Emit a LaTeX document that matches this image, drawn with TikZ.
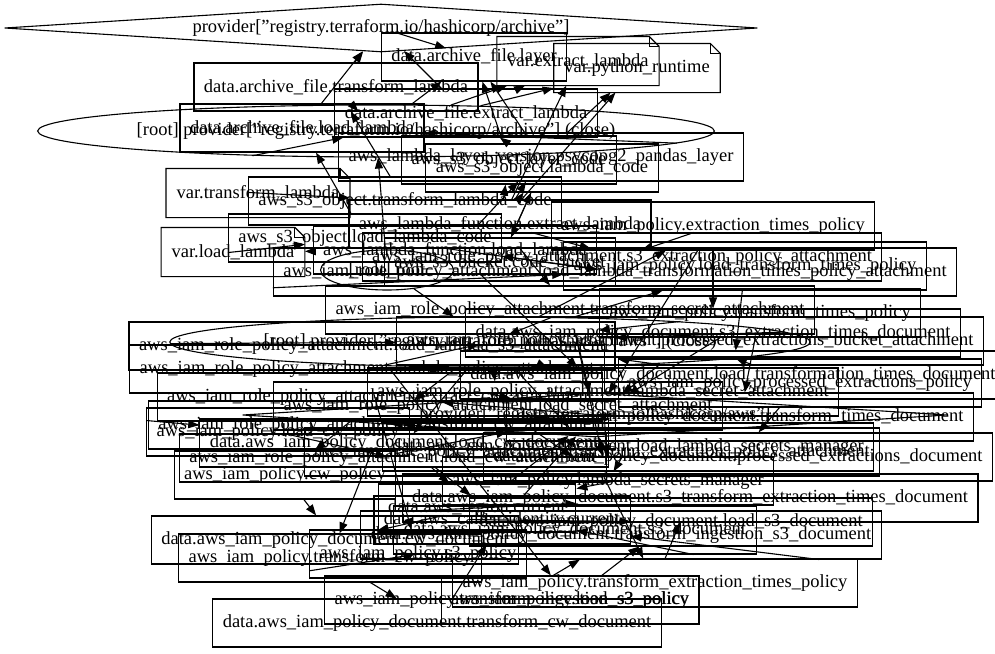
\documentclass[tikz,border=0pt]{standalone}
\usepackage{fontspec}
\setmainfont{Liberation Serif}
\usetikzlibrary{shapes.geometric,arrows.meta,calc}
\newcommand\dq{\char34\relax}
\tikzset{
  base/.style={font=\fontsize{18.5pt}{20pt}\selectfont, line width=1.1pt, inner ysep=0pt, inner xsep=10pt, minimum height=48pt},
  box/.style={base, draw, rectangle},
  notebox/.style={base, rectangle},
  oval/.style={base, draw, ellipse, inner sep=0pt},
  dia/.style={base, draw, diamond, inner sep=0pt, aspect=15},
  outline/.style={line width=1.1pt},
  edge/.style={line width=1.1pt, -{Triangle[length=11pt,width=8pt]}}
}
\begin{document}
\begin{tikzpicture}[x=1pt,y=-1pt]
\useasboundingbox (0,0) rectangle (995,653);
% ---------- top part ----------
\node[dia, minimum width=753pt, minimum height=48pt] (parch) at (381,28) {provider[\dq registry.terraform.io/hashicorp/archive\dq]};
\node[box] (dl) at (474,57) {data.archive\_file.layer};
\node[notebox] (vex) at (578,61) {var.extract\_lambda};
\node[notebox] (vpy) at (637,68) {var.python\_runtime};
\node[box] (dtr) at (336,87) {data.archive\_file.transform\_lambda};
\node[box] (dex) at (466,113) {data.archive\_file.extract\_lambda};
\node[oval, minimum width=672pt, minimum height=52pt] (closeA) at (376,131) {[root] provider[\dq registry.terraform.io/hashicorp/archive\dq] (close)};
\node[box] (dlo) at (302,128) {data.archive\_file.load\_lambda};
\node[box] (layer) at (541,157) {aws\_lambda\_layer\_version.psycopg2\_pandas\_layer};
\node[box] (s3lay) at (509,160) {aws\_s3\_object.layer\_code};
\node[box] (s3code) at (542,168) {aws\_s3\_object.lambda\_code};
\node[notebox] (vtr) at (258,193) {var.transform\_lambda};
\node[box] (s3tr) at (405,201) {aws\_s3\_object.transform\_lambda\_code};
\node[notebox] (vlo) at (233,252) {var.load\_lambda};
\node[box] (s3lo) at (365,238) {aws\_s3\_object.load\_lambda\_code};
\node[box] (lfex) at (500,224) {aws\_lambda\_function.extract\_lambda};
\node[box] (pext) at (713,226) {aws\_iam\_policy.extraction\_times\_policy};
\node[box] (lflo) at (455,250) {aws\_lambda\_function.load\_lambda};
\node[box] (bucket) at (500,262) {aws\_s3\_bucket.code\_bucket};
\node[oval, minimum width=133pt, minimum height=40pt] (root) at (387,270) {[root] root};
\node[box] (rpas3ext) at (622,257) {aws\_iam\_role\_policy\_attachment.s3\_extraction\_policy\_attachment};
\node[box] (pltt) at (745,266) {aws\_iam\_policy.load\_transform\_times\_policy};
\node[box] (rpalltt) at (615,272) {aws\_iam\_role\_policy\_attachment.load\_lambda\_transformation\_times\_policy\_attachment};
% ---------- middle part ----------
\node[box] (rpatsec) at (570,310) {aws\_iam\_role\_policy\_attachment.transform\_secret\_attachment};
\node[box] (ptt) at (760,313) {aws\_iam\_policy.transform\_times\_policy};
\node[box] (ds3ext) at (713,333) {data.aws\_iam\_policy\_document.s3\_extraction\_times\_document};
\node[box] (rpaproc) at (690,341) {aws\_iam\_role\_policy\_attachment.processed\_extractions\_bucket\_attachment};
\node[oval, minimum width=636pt, minimum height=50pt] (closeB) at (490,342) {[root] provider[\dq registry.terraform.io/hashicorp/aws\dq] (close)};
\node[box] (rpals3) at (372,346) {aws\_iam\_role\_policy\_attachment.load\_lambda\_s3\_attachment};
\node[box] (rpalp) at (367,369) {aws\_iam\_role\_policy\_attachment.lambda\_policy\_attachment};
\node[box] (dltt) at (733,375) {data.aws\_iam\_policy\_document.load\_transformation\_times\_document};
\node[box] (pproc) at (800,383) {aws\_iam\_policy.processed\_extractions\_policy};
\node[box] (rpalsec) at (603,392) {aws\_iam\_role\_policy\_attachment.lambda\_secret\_attachment};
\node[box] (rpaext) at (380,397) {aws\_iam\_role\_policy\_attachment.extract\_cw\_attachment};
\node[box] (rpalsecb) at (498,406) {aws\_iam\_role\_policy\_attachment.load\_secret\_attachment};
\node[dia, minimum width=705pt, minimum height=44pt] (paws) at (595,415) {provider[\dq registry.terraform.io/hashicorp/aws\dq]};
\node[box] (dtt) at (740,417) {data.aws\_iam\_policy\_document.transform\_times\_document};
\node[box] (rpatcw) at (382,425) {aws\_iam\_role\_policy\_attachment.transform\_cw\_attachment};
\node[box] (plcw) at (278,432) {aws\_iam\_policy.load\_cw\_policy};
\node[box] (dlcw) at (404,443) {data.aws\_iam\_policy\_document.load\_cw\_document};
\node[box] (dlsm) at (628,447) {data.aws\_iam\_policy\_document.load\_lambda\_secrets\_manager};
\node[box] (rpatex) at (592,452) {aws\_iam\_role\_policy\_attachment.transform\_extraction\_policy\_attachment};
\node[box] (dproc) at (738,457) {data.aws\_iam\_policy\_document.processed\_extractions\_document};
\node[box] (rpalcw) at (393,458) {aws\_iam\_role\_policy\_attachment.load\_cw\_attachment};
\node[box] (pcw) at (285,475) {aws\_iam\_policy.cw\_policy};
\node[box] (psm) at (608,481) {aws\_iam\_policy.lambda\_secrets\_manager};
% ---------- bottom part ----------
\node[box] (ds3tet) at (690,498) {data.aws\_iam\_policy\_document.s3\_transform\_extraction\_times\_document};
\node[box] (region) at (477,508) {data.aws\_region.current};
\node[box] (caller) at (502,520) {data.aws\_caller\_identity.current};
\node[box] (dls3) at (671,522) {data.aws\_iam\_policy\_document.load\_s3\_document};
\node[box] (ds3) at (575,530) {data.aws\_iam\_policy\_document.s3\_document};
\node[box] (dtis3) at (621,535) {data.aws\_iam\_policy\_document.transform\_ingestion\_s3\_document};
\node[box] (dcw) at (335,540) {data.aws\_iam\_policy\_document.cw\_document};
\node[box] (ps3) at (418,554) {aws\_iam\_policy.s3\_policy};
\node[box] (ptcw) at (330,558) {aws\_iam\_policy.transform\_cw\_policy};
\node[box] (ptet) at (655,583) {aws\_iam\_policy.transform\_extraction\_times\_policy};
\node[box] (ptis3) at (512,600) {aws\_iam\_policy.transform\_ingestion\_s3\_policy};
\node[box] (pls3) at (570,600) {aws\_iam\_policy.load\_s3\_policy};
\node[box] (dtcw) at (437,623) {data.aws\_iam\_policy\_document.transform\_cw\_document};
% note outlines with folded corner
\foreach \n in {vex,vpy,vtr,vlo}{
  \draw[outline] (\n.north west) -- ($(\n.north east)+(-10,0)$) -- ($(\n.north east)+(0,10)$) -- (\n.south east) -- (\n.south west) -- cycle;
  \draw[outline] ($(\n.north east)+(-10,0)$) -- ($(\n.north east)+(-10,10)$) -- ($(\n.north east)+(0,10)$);
}
% ---------- edges ----------
\foreach \a/\b in {dlo/parch, dl/parch, dex/parch, dtr/parch,
  closeA/dl, closeA/dex, closeA/dlo, closeA/dtr, closeA/vex, closeA/vpy,
  dex/vex, layer/vpy, layer/dl, s3lay/dl, lfex/vex, lfex/vpy,
  lfex/s3code, lfex/layer, lfex/s3lay, s3code/dex, s3code/bucket,
  s3tr/dtr, s3tr/vtr, s3lo/dlo, s3lo/vlo, lflo/s3lo, lflo/layer, lflo/vlo,
  bucket/s3code, root/closeA, root/closeB,
  rpas3ext/pext, rpas3ext/lfex, rpalltt/pltt, rpalltt/lflo, pltt/dltt,
  rpatsec/psm, ptt/dtt, rpaproc/pproc, pproc/dproc, pext/ds3ext,
  rpals3/pls3, rpalp/ps3, rpaext/pcw, rpatcw/ptcw, rpalcw/plcw,
  plcw/dlcw, pcw/dcw, ptcw/dtcw, ps3/ds3, pls3/dls3, ptis3/dtis3,
  ptet/ds3tet, psm/dlsm, rpalsec/psm, rpalsecb/psm, rpatex/ptet,
  closeB/rpatsec, closeB/rpaproc, closeB/rpals3, closeB/rpalp, closeB/rpalsec,
  closeB/rpaext, closeB/rpalsecb, closeB/rpatcw, closeB/rpalcw, closeB/rpatex,
  closeB/pext, closeB/pltt, closeB/ptt, closeB/pproc,
  rpatsec/paws, rpaproc/paws, rpalp/paws, rpaext/paws, rpatcw/paws,
  pcw/paws, psm/paws, plcw/paws, pext/paws, ptt/paws,
  dlcw/region, dlcw/caller, dproc/region, dls3/caller, ds3tet/region,
  dtis3/caller, dcw/region, dtcw/caller, ds3/region,
  region/paws, caller/paws, lfex/rpatsec, lflo/rpalsec}
  \draw[edge] (\a) -- (\b);
\end{tikzpicture}
\end{document}
